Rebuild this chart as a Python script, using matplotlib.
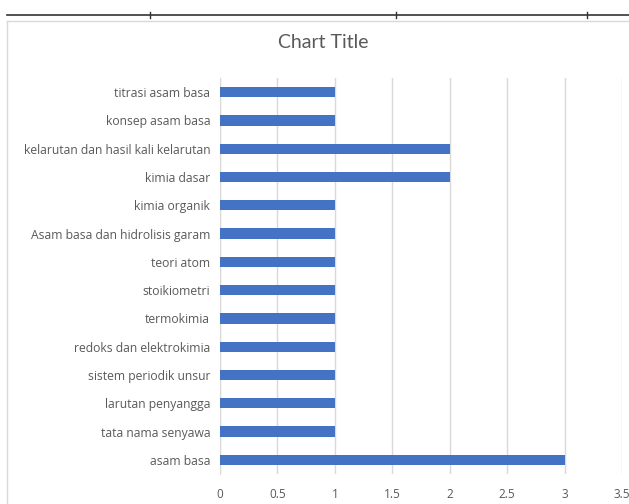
import matplotlib.pyplot as plt
from matplotlib.lines import Line2D

# categories listed bottom to top (Excel order)
topics = ["asam basa", "tata nama senyawa", "larutan penyangga", "sistem periodik unsur",
          "redoks dan elektrokimia", "termokimia", "stoikiometri", "teori atom",
          "Asam basa dan hidrolisis garam", "kimia organik", "kimia dasar",
          "kelarutan dan hasil kali kelarutan", "konsep asam basa", "titrasi asam basa"]
counts = [3, 1, 1, 1, 1, 1, 1, 1, 1, 1, 2, 2, 1, 1]
xticks = [0, 0.5, 1, 1.5, 2, 2.5, 3, 3.5]
xticklabels = ["0", "0.5", "1", "1.5", "2", "2.5", "3", "3.5"]

plt.rcParams['font.family'] = ['Lato', 'DejaVu Sans']
W, H = 629, 504
fig = plt.figure(figsize=(W / 100, H / 100), dpi=100)

# black ruler-ish line across the top, with small ticks
fig.add_artist(Line2D([7 / W, 1], [1 - 15 / H] * 2, color="#333333", lw=1.2))
for xp in [150, 396, 587]:
    fig.add_artist(Line2D([xp / W] * 2, [1 - 12 / H, 1 - 18 / H], color="#333333", lw=1))
# chart frame (light gray)
fig.add_artist(Line2D([7 / W, 7 / W], [0, 1 - 21 / H], color="#d9d9d9", lw=1))
fig.add_artist(Line2D([7 / W, 1], [1 - 21 / H] * 2, color="#d9d9d9", lw=1))

ax = fig.add_axes([220 / W, 1 - 474 / H, 402 / W, 396 / H])
ax.barh(range(len(topics)), counts, height=0.36, color="#4472C4", zorder=3)

ax.set_xlim(0, 3.5)
ax.set_ylim(-0.5, len(topics) - 0.5)
ax.set_xticks(xticks)
ax.set_xticklabels(xticklabels, family=['Open Sans', 'DejaVu Sans'], fontsize=8.5)
ax.set_yticks(range(len(topics)))
ax.set_yticklabels(topics, family=['Open Sans', 'DejaVu Sans'], fontsize=8.7)
ax.grid(axis="x", color="#d9d9d9", lw=1, zorder=0)
for s in ["top", "right", "bottom"]:
    ax.spines[s].set_visible(False)
ax.spines["left"].set_color("#d9d9d9")
ax.tick_params(axis="both", length=0, labelcolor="#595959")
ax.tick_params(axis="x", pad=10)
ax.tick_params(axis="y", pad=7)

fig.text(323 / W, 1 - 43 / H, "Chart Title", ha="center", va="center",
         fontsize=14, color="#595959")

fig.savefig("out.png", dpi=100)
